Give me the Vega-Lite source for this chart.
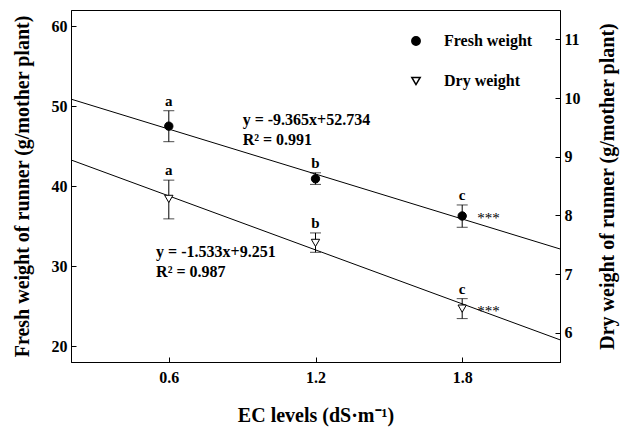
{
  "$schema": "https://vega.github.io/schema/vega-lite/v6.json",
  "width": 489,
  "height": 352,
  "autosize": "none",
  "padding": {"left": 71, "top": 10, "right": 69, "bottom": 68},
  "config": {
    "font": "Liberation Serif",
    "view": {"stroke": "black", "strokeWidth": 1},
    "axis": {
      "grid": false,
      "domainColor": "black",
      "tickColor": "black",
      "tickSize": -5,
      "labelFont": "Liberation Serif",
      "labelFontWeight": "bold",
      "labelFontSize": 16,
      "labelColor": "black",
      "titleFont": "Liberation Serif",
      "titleFontWeight": "bold",
      "titleFontSize": 20,
      "titleColor": "black"
    },
    "legend": {
      "labelFont": "Liberation Serif",
      "labelFontWeight": "bold",
      "labelFontSize": 16,
      "labelColor": "black",
      "padding": 0
    }
  },
  "datasets": {
    "fresh": [
      {"ec": 0.6, "mean": 47.48, "lo": 45.54, "hi": 49.41, "letter": "a", "sig": "", "series": "Fresh weight"},
      {"ec": 1.2, "mean": 40.9, "lo": 40.2, "hi": 41.65, "letter": "b", "sig": "", "series": "Fresh weight"},
      {"ec": 1.8, "mean": 36.25, "lo": 34.84, "hi": 37.63, "letter": "c", "sig": "***", "series": "Fresh weight"}
    ],
    "dry": [
      {"ec": 0.6, "mean": 8.28, "lo": 7.94, "hi": 8.6, "letter": "a", "sig": "", "series": "Dry weight"},
      {"ec": 1.2, "mean": 7.53, "lo": 7.37, "hi": 7.7, "letter": "b", "sig": "", "series": "Dry weight"},
      {"ec": 1.8, "mean": 6.41, "lo": 6.24, "hi": 6.58, "letter": "c", "sig": "***", "series": "Dry weight"}
    ],
    "freshLine": [
      {"ec": 0.2, "val": 50.86},
      {"ec": 2.2, "val": 32.13}
    ],
    "dryLine": [
      {"ec": 0.2, "val": 8.944},
      {"ec": 2.2, "val": 5.878}
    ],
    "freshEq": [
      {"ec": 0.902, "val": 47.57, "label": "y = -9.365x+52.734"},
      {"ec": 0.902, "val": 45.16, "label": "R² = 0.991"}
    ],
    "dryEq": [
      {"ec": 0.548, "val": 7.295, "label": "y = -1.533x+9.251"},
      {"ec": 0.548, "val": 6.954, "label": "R² = 0.987"}
    ]
  },
  "layer": [
    {
      "layer": [
        {
          "data": {"name": "freshLine"},
          "mark": {"type": "line", "color": "black", "strokeWidth": 1},
          "encoding": {
            "x": {"field": "ec", "type": "quantitative", "scale": {"domain": [0.2, 2.2], "nice": false}, "axis": {"values": [0.6, 1.2, 1.8], "format": ".1f", "title": "EC levels (dS·m⁻¹)", "labelPadding": 12, "titlePadding": 20}},
            "y": {"field": "val", "type": "quantitative", "scale": {"domain": [18, 62], "nice": false}, "axis": {"values": [20, 30, 40, 50, 60], "format": "d", "title": "Fresh weight of runner (g/mother plant)", "labelPadding": 9, "titlePadding": 19}}
          }
        },
        {
          "data": {"name": "fresh"},
          "mark": {"type": "rule", "color": "black", "strokeWidth": 1},
          "encoding": {
            "x": {"field": "ec", "type": "quantitative"},
            "y": {"field": "lo", "type": "quantitative"},
            "y2": {"field": "hi"}
          }
        },
        {
          "data": {"name": "fresh"},
          "mark": {"type": "tick", "orient": "horizontal", "color": "black", "size": 11, "thickness": 1},
          "encoding": {
            "x": {"field": "ec", "type": "quantitative"},
            "y": {"field": "lo", "type": "quantitative"}
          }
        },
        {
          "data": {"name": "fresh"},
          "mark": {"type": "tick", "orient": "horizontal", "color": "black", "size": 11, "thickness": 1},
          "encoding": {
            "x": {"field": "ec", "type": "quantitative"},
            "y": {"field": "hi", "type": "quantitative"}
          }
        },
        {
          "data": {"name": "fresh"},
          "mark": {"type": "point", "filled": false, "color": "black", "size": 70, "strokeWidth": 1, "opacity": 1},
          "encoding": {
            "x": {"field": "ec", "type": "quantitative"},
            "y": {"field": "mean", "type": "quantitative"},
            "shape": {"field": "series", "type": "nominal", "scale": {"domain": ["Fresh weight", "Dry weight"], "range": ["circle", "triangle-down"]}, "legend": {"orient": "none", "legendX": 337, "legendY": 23, "title": null, "rowPadding": 24, "labelOffset": 20, "symbolSize": 70}},
            "fill": {"field": "series", "type": "nominal", "scale": {"domain": ["Fresh weight", "Dry weight"], "range": ["black", "white"]}, "legend": {"orient": "none", "legendX": 337, "legendY": 23, "title": null, "rowPadding": 24, "labelOffset": 20, "symbolSize": 70}}
          }
        },
        {
          "data": {"name": "fresh"},
          "mark": {"type": "text", "font": "Liberation Serif", "fontWeight": "bold", "fontSize": 15, "fill": "black", "align": "center", "baseline": "alphabetic", "dy": -5},
          "encoding": {
            "x": {"field": "ec", "type": "quantitative"},
            "y": {"field": "hi", "type": "quantitative"},
            "text": {"field": "letter"}
          }
        },
        {
          "data": {"name": "fresh"},
          "mark": {"type": "text", "font": "Liberation Serif", "fontSize": 15, "fill": "black", "align": "left", "baseline": "alphabetic", "dx": 15, "dy": 7},
          "encoding": {
            "x": {"field": "ec", "type": "quantitative"},
            "y": {"field": "mean", "type": "quantitative"},
            "text": {"field": "sig"}
          }
        },
        {
          "data": {"name": "freshEq"},
          "mark": {"type": "text", "font": "Liberation Serif", "fontWeight": "bold", "fontSize": 16, "fill": "black", "align": "left", "baseline": "alphabetic"},
          "encoding": {
            "x": {"field": "ec", "type": "quantitative"},
            "y": {"field": "val", "type": "quantitative"},
            "text": {"field": "label"}
          }
        }
      ]
    },
    {
      "layer": [
        {
          "data": {"name": "dryLine"},
          "mark": {"type": "line", "color": "black", "strokeWidth": 1},
          "encoding": {
            "x": {"field": "ec", "type": "quantitative"},
            "y": {"field": "val", "type": "quantitative", "scale": {"domain": [5.5, 11.5], "nice": false}, "axis": {"orient": "right", "values": [6, 7, 8, 9, 10, 11], "format": "d", "title": "Dry weight of runner (g/mother plant)", "titleAngle": -90, "titleBaseline": "top", "labelPadding": 9, "titlePadding": 17}}
          }
        },
        {
          "data": {"name": "dry"},
          "mark": {"type": "rule", "color": "black", "strokeWidth": 1},
          "encoding": {
            "x": {"field": "ec", "type": "quantitative"},
            "y": {"field": "lo", "type": "quantitative"},
            "y2": {"field": "hi"}
          }
        },
        {
          "data": {"name": "dry"},
          "mark": {"type": "tick", "orient": "horizontal", "color": "black", "size": 11, "thickness": 1},
          "encoding": {
            "x": {"field": "ec", "type": "quantitative"},
            "y": {"field": "lo", "type": "quantitative"}
          }
        },
        {
          "data": {"name": "dry"},
          "mark": {"type": "tick", "orient": "horizontal", "color": "black", "size": 11, "thickness": 1},
          "encoding": {
            "x": {"field": "ec", "type": "quantitative"},
            "y": {"field": "hi", "type": "quantitative"}
          }
        },
        {
          "data": {"name": "dry"},
          "mark": {"type": "point", "filled": false, "color": "black", "size": 70, "strokeWidth": 1, "opacity": 1},
          "encoding": {
            "x": {"field": "ec", "type": "quantitative"},
            "y": {"field": "mean", "type": "quantitative"},
            "shape": {"field": "series", "type": "nominal"},
            "fill": {"field": "series", "type": "nominal"}
          }
        },
        {
          "data": {"name": "dry"},
          "mark": {"type": "text", "font": "Liberation Serif", "fontWeight": "bold", "fontSize": 15, "fill": "black", "align": "center", "baseline": "alphabetic", "dy": -5},
          "encoding": {
            "x": {"field": "ec", "type": "quantitative"},
            "y": {"field": "hi", "type": "quantitative"},
            "text": {"field": "letter"}
          }
        },
        {
          "data": {"name": "dry"},
          "mark": {"type": "text", "font": "Liberation Serif", "fontSize": 15, "fill": "black", "align": "left", "baseline": "alphabetic", "dx": 15, "dy": 7},
          "encoding": {
            "x": {"field": "ec", "type": "quantitative"},
            "y": {"field": "mean", "type": "quantitative"},
            "text": {"field": "sig"}
          }
        },
        {
          "data": {"name": "dryEq"},
          "mark": {"type": "text", "font": "Liberation Serif", "fontWeight": "bold", "fontSize": 16, "fill": "black", "align": "left", "baseline": "alphabetic"},
          "encoding": {
            "x": {"field": "ec", "type": "quantitative"},
            "y": {"field": "val", "type": "quantitative"},
            "text": {"field": "label"}
          }
        }
      ]
    }
  ],
  "resolve": {"scale": {"y": "independent"}}
}
